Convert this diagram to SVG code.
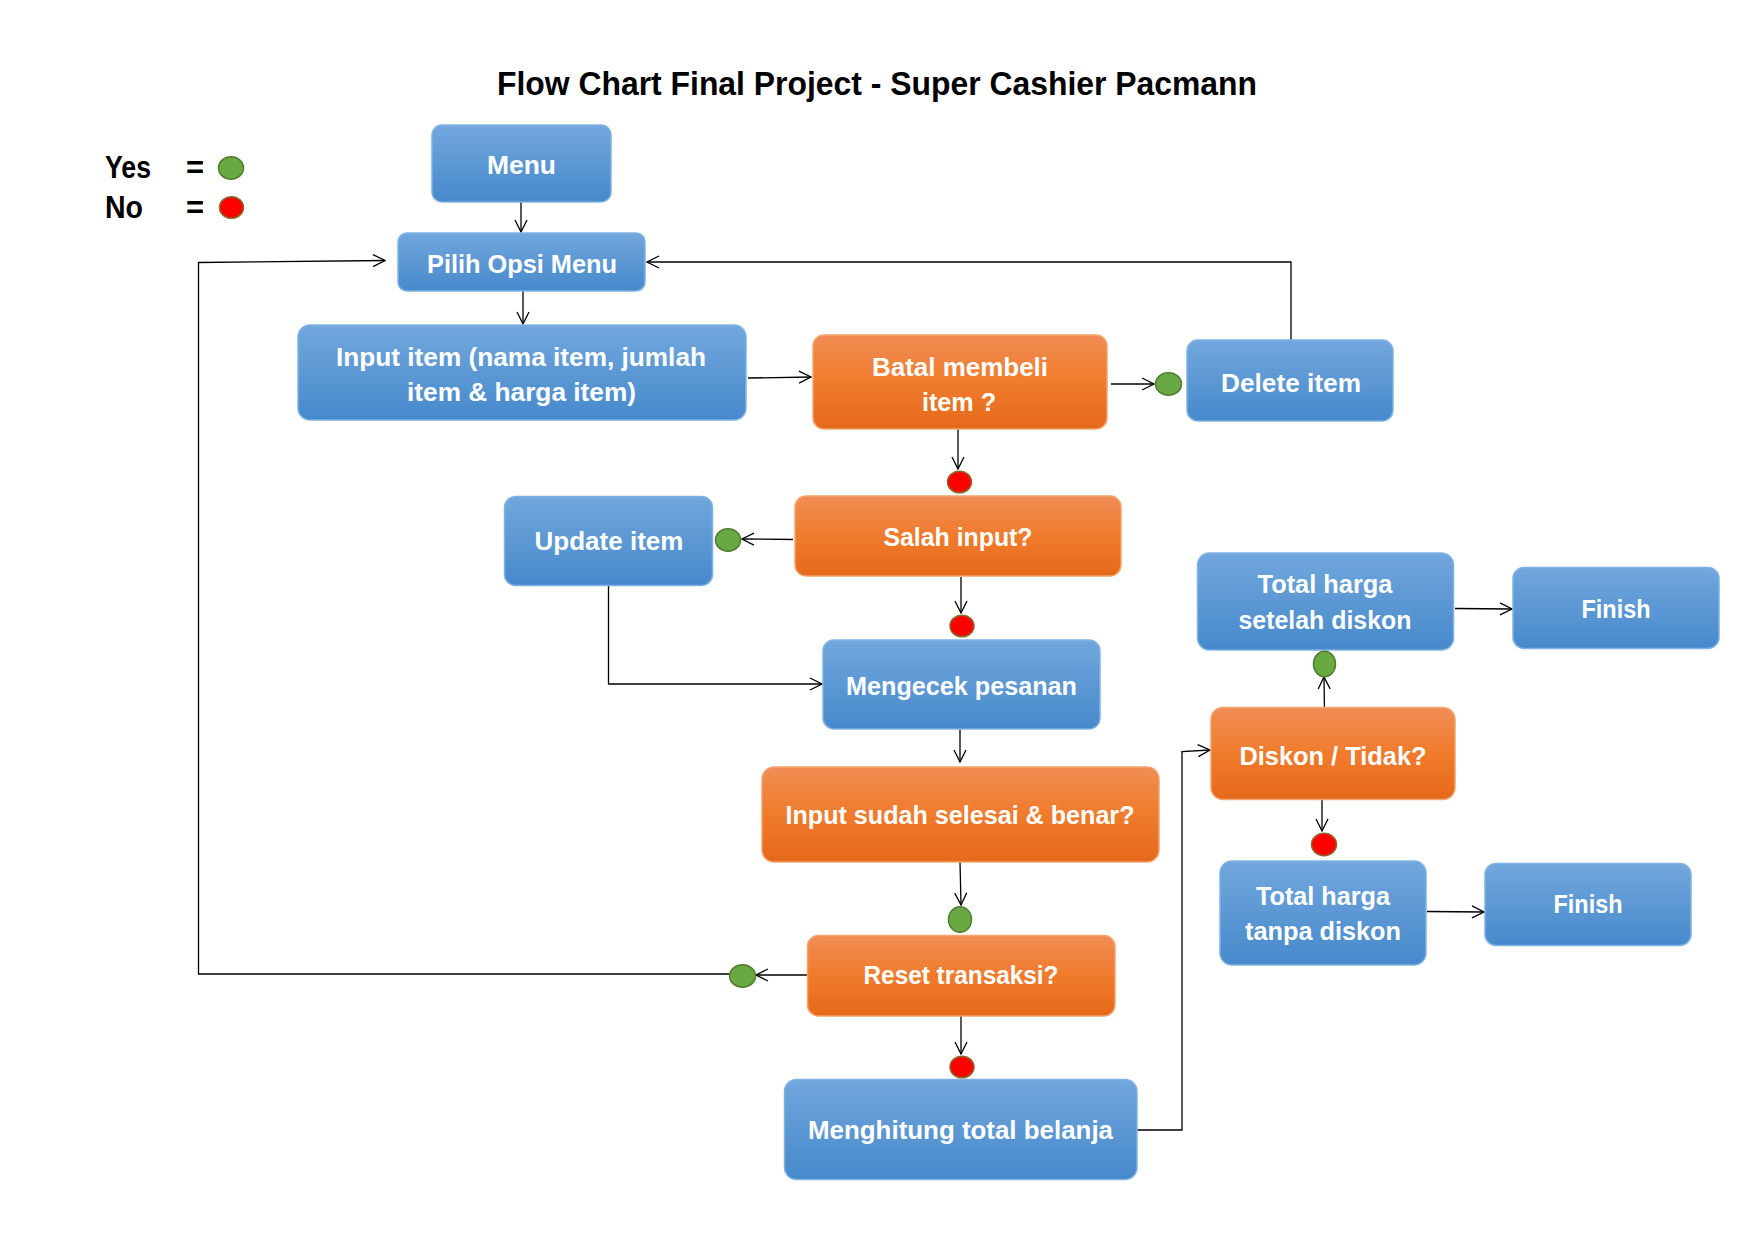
<svg xmlns="http://www.w3.org/2000/svg" width="1754" height="1241" viewBox="0 0 1754 1241">
<defs>
<linearGradient id="gBlue" x1="0" y1="0" x2="0" y2="1">
<stop offset="0" stop-color="#72a7dd"/>
<stop offset="1" stop-color="#4689cb"/>
</linearGradient>
<linearGradient id="gOrange" x1="0" y1="0" x2="0" y2="1">
<stop offset="0" stop-color="#f08d55"/>
<stop offset="0.5" stop-color="#f07b2c"/>
<stop offset="1" stop-color="#e5691b"/>
</linearGradient>
<marker id="arr" viewBox="0 0 14 14" refX="13" refY="7" markerWidth="14" markerHeight="14" markerUnits="userSpaceOnUse" orient="auto">
<path d="M1,1 L13,7 L1,13" fill="none" stroke="#000" stroke-width="1.3"/>
</marker>
<style>
.blue{fill:url(#gBlue);stroke:#7fb2e3;stroke-width:1.5}
.orange{fill:url(#gOrange);stroke:#f4a46c;stroke-width:1.5}
.t{font-family:"Liberation Sans",Arial,sans-serif;font-weight:bold;font-size:25px;fill:#fff;text-anchor:middle}
.lg{font-family:"Liberation Sans",Arial,sans-serif;font-weight:bold;font-size:31px;fill:#000}
.ttl{font-family:"Liberation Sans",Arial,sans-serif;font-weight:bold;font-size:34px;fill:#000;text-anchor:middle}
.c{fill:none;stroke:#000;stroke-width:1.3}
.yes{fill:#6aa843;stroke:#4c7d2c;stroke-width:1.5}
.no{fill:#ff0000;stroke:#8a6a2a;stroke-width:1.5}
</style>
</defs>
<rect width="1754" height="1241" fill="#fff"/>

<text class="ttl" x="877" y="95" textLength="760" lengthAdjust="spacingAndGlyphs">Flow Chart Final Project - Super Cashier Pacmann</text>

<g id="legend">
<text class="lg" x="105" y="178" textLength="46" lengthAdjust="spacingAndGlyphs">Yes</text>
<text class="lg" x="105" y="217.5" textLength="38" lengthAdjust="spacingAndGlyphs">No</text>
<text class="lg" x="186" y="178">=</text>
<text class="lg" x="186" y="217.5">=</text>
<ellipse class="yes" cx="231" cy="168" rx="12.5" ry="11.2"/>
<ellipse class="no" cx="231.5" cy="207.5" rx="12" ry="10.8"/>
</g>

<g id="connectors">
<line class="c" x1="521" y1="202" x2="521" y2="232" marker-end="url(#arr)"/>
<line class="c" x1="523" y1="291" x2="523" y2="324" marker-end="url(#arr)"/>
<line class="c" x1="748" y1="378" x2="811" y2="377" marker-end="url(#arr)"/>
<line class="c" x1="1111" y1="384" x2="1154" y2="384" marker-end="url(#arr)"/>
<path class="c" d="M1291,340 V262 H647" marker-end="url(#arr)"/>
<line class="c" x1="807" y1="975" x2="756" y2="975" marker-end="url(#arr)"/>
<path class="c" d="M729,974 H198.5 V262.5 L385,260.5" marker-end="url(#arr)"/>
<line class="c" x1="958" y1="429" x2="958" y2="469" marker-end="url(#arr)"/>
<line class="c" x1="793" y1="539.5" x2="742" y2="539" marker-end="url(#arr)"/>
<line class="c" x1="961" y1="577" x2="961" y2="613" marker-end="url(#arr)"/>
<path class="c" d="M608.5,586 V684 H822" marker-end="url(#arr)"/>
<line class="c" x1="960" y1="729" x2="960" y2="762" marker-end="url(#arr)"/>
<line class="c" x1="960" y1="862" x2="961" y2="905" marker-end="url(#arr)"/>
<line class="c" x1="961" y1="1016" x2="961" y2="1054" marker-end="url(#arr)"/>
<path class="c" d="M1137,1130 H1182 V751.5 L1210,750" marker-end="url(#arr)"/>
<line class="c" x1="1324.5" y1="711" x2="1324" y2="677" marker-end="url(#arr)"/>
<line class="c" x1="1322" y1="799" x2="1322" y2="831" marker-end="url(#arr)"/>
<line class="c" x1="1455" y1="608.5" x2="1512" y2="609" marker-end="url(#arr)"/>
<line class="c" x1="1427" y1="911.5" x2="1484" y2="912" marker-end="url(#arr)"/>
</g>

<g id="n-menu">
<rect class="blue" x="432" y="125" width="179" height="77" rx="10"/>
<text class="t" x="521.5" y="174" textLength="69" lengthAdjust="spacingAndGlyphs">Menu</text>
</g>
<g id="n-pilih">
<rect class="blue" x="398" y="233" width="247" height="58" rx="9"/>
<text class="t" x="522" y="273" textLength="190" lengthAdjust="spacingAndGlyphs">Pilih Opsi Menu</text>
</g>
<g id="n-input">
<rect class="blue" x="298" y="325" width="448" height="95" rx="12"/>
<text class="t" x="521" y="366" textLength="370" lengthAdjust="spacingAndGlyphs">Input item (nama item, jumlah</text>
<text class="t" x="521.5" y="401" textLength="229" lengthAdjust="spacingAndGlyphs">item &amp; harga item)</text>
</g>
<g id="n-batal">
<rect class="orange" x="813" y="335" width="294" height="94" rx="11"/>
<text class="t" x="960" y="376" textLength="176" lengthAdjust="spacingAndGlyphs">Batal membeli</text>
<text class="t" x="959" y="411" textLength="74" lengthAdjust="spacingAndGlyphs">item ?</text>
</g>
<g id="n-delete">
<rect class="blue" x="1187" y="340" width="206" height="81" rx="11"/>
<text class="t" x="1291" y="391.5" textLength="140" lengthAdjust="spacingAndGlyphs">Delete item</text>
</g>
<g id="n-salah">
<rect class="orange" x="795" y="496" width="326" height="80" rx="11"/>
<text class="t" x="958" y="546" textLength="149" lengthAdjust="spacingAndGlyphs">Salah input?</text>
</g>
<g id="n-update">
<rect class="blue" x="504.5" y="496.5" width="208" height="89" rx="11"/>
<text class="t" x="609" y="550" textLength="149" lengthAdjust="spacingAndGlyphs">Update item</text>
</g>
<g id="n-mengecek">
<rect class="blue" x="823" y="640" width="277" height="89" rx="11"/>
<text class="t" x="961.5" y="695" textLength="231" lengthAdjust="spacingAndGlyphs">Mengecek pesanan</text>
</g>
<g id="n-inputsudah">
<rect class="orange" x="762" y="767" width="397" height="95" rx="12"/>
<text class="t" x="960" y="824" textLength="349" lengthAdjust="spacingAndGlyphs">Input sudah selesai &amp; benar?</text>
</g>
<g id="n-reset">
<rect class="orange" x="807.5" y="935.5" width="307.5" height="80.5" rx="11"/>
<text class="t" x="961" y="984" textLength="195" lengthAdjust="spacingAndGlyphs">Reset transaksi?</text>
</g>
<g id="n-menghitung">
<rect class="blue" x="784.5" y="1079.5" width="352.5" height="100" rx="12"/>
<text class="t" x="960.5" y="1139" textLength="305" lengthAdjust="spacingAndGlyphs">Menghitung total belanja</text>
</g>
<g id="n-diskon">
<rect class="orange" x="1211" y="707.5" width="244" height="92" rx="12"/>
<text class="t" x="1333" y="765" textLength="187" lengthAdjust="spacingAndGlyphs">Diskon / Tidak?</text>
</g>
<g id="n-setelah">
<rect class="blue" x="1197.5" y="553" width="256" height="97" rx="12"/>
<text class="t" x="1325" y="593" textLength="135" lengthAdjust="spacingAndGlyphs">Total harga</text>
<text class="t" x="1325" y="629" textLength="173" lengthAdjust="spacingAndGlyphs">setelah diskon</text>
</g>
<g id="n-finish1">
<rect class="blue" x="1513" y="567.5" width="206" height="81" rx="11"/>
<text class="t" x="1616" y="617.5" textLength="69" lengthAdjust="spacingAndGlyphs">Finish</text>
</g>
<g id="n-tanpa">
<rect class="blue" x="1220" y="861" width="206" height="104" rx="12"/>
<text class="t" x="1323" y="904.5" textLength="134" lengthAdjust="spacingAndGlyphs">Total harga</text>
<text class="t" x="1323" y="940" textLength="156" lengthAdjust="spacingAndGlyphs">tanpa diskon</text>
</g>
<g id="n-finish2">
<rect class="blue" x="1485" y="863.5" width="206" height="82" rx="11"/>
<text class="t" x="1588" y="913" textLength="69" lengthAdjust="spacingAndGlyphs">Finish</text>
</g>

<g id="dots">
<ellipse class="yes" cx="1168.5" cy="384" rx="13" ry="11.2"/>
<ellipse class="no" cx="959.5" cy="482" rx="12" ry="10.8"/>
<ellipse class="yes" cx="728" cy="540" rx="12.5" ry="11.2"/>
<ellipse class="no" cx="962" cy="626" rx="12" ry="10.8"/>
<ellipse class="yes" cx="960" cy="919.5" rx="11.5" ry="12.8"/>
<ellipse class="yes" cx="742.5" cy="976" rx="13" ry="11.2"/>
<ellipse class="no" cx="962" cy="1067" rx="12" ry="10.8"/>
<ellipse class="yes" cx="1324.5" cy="664" rx="11" ry="12.8"/>
<ellipse class="no" cx="1324" cy="844.5" rx="12.5" ry="11.2"/>
</g>
</svg>
